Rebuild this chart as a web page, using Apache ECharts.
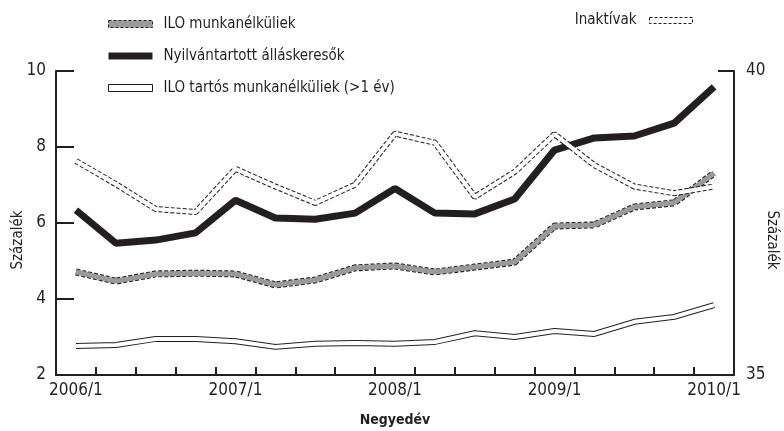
<!DOCTYPE html>
<html>
<head>
<meta charset="utf-8">
<script src="https://cdn.jsdelivr.net/npm/echarts@6/dist/echarts.min.js"></script>
<style>
  html, body { margin: 0; padding: 0; background: #fff; }
  #chart { width: 784px; height: 431px; }
</style>
</head>
<body>
<div id="chart"></div>
<script>
// negyedévek 2006/1 - 2010/1
const quarters = [
  "2006/1", "2006/2", "2006/3", "2006/4",
  "2007/1", "2007/2", "2007/3", "2007/4",
  "2008/1", "2008/2", "2008/3", "2008/4",
  "2009/1", "2009/2", "2009/3", "2009/4",
  "2010/1",
];

// bal tengely (%)
const iloMunkanelkuli = [4.71, 4.47, 4.66, 4.68, 4.66, 4.37, 4.5, 4.82, 4.87, 4.71, 4.84, 4.97, 5.92, 5.95, 6.42, 6.53, 7.31];
const nyilvantartott = [6.34, 5.47, 5.55, 5.74, 6.6, 6.13, 6.1, 6.26, 6.91, 6.26, 6.24, 6.63, 7.92, 8.24, 8.29, 8.63, 9.58];
const iloTartos = [2.76, 2.79, 2.95, 2.95, 2.89, 2.74, 2.82, 2.84, 2.82, 2.87, 3.1, 3.0, 3.16, 3.08, 3.4, 3.53, 3.84];

// jobb tengely (%)
const inaktivak = [38.52, 38.14, 37.73, 37.68, 38.39, 38.1, 37.83, 38.13, 38.97, 38.82, 37.93, 38.34, 38.96, 38.45, 38.1, 37.99, 38.1];

const FONT = "'DejaVu Sans Condensed', 'Liberation Sans Narrow', sans-serif";
const INK = "#231f20";
const GRAY = "#9a9a9a";

const chart = echarts.init(document.getElementById("chart"), null, { renderer: "canvas" });

// a "keretes" vonalakat két sorozattal rajzolom: alul a fekete kontúr, felül a kitöltés
const lineBase = { type: "line", showSymbol: false, symbol: "none", silent: true };

const option = {
  animation: false,
  backgroundColor: "#fff",
  grid: { left: 56, right: 50, top: 71, bottom: 56, containLabel: false, outerBoundsMode: "none" },
  legend: [
    {
      orient: "vertical",
      left: 108,
      top: 15,
      padding: 0,
      itemWidth: 44,
      itemHeight: 7,
      itemGap: 14,
      selectedMode: false,
      textStyle: { fontFamily: FONT, fontSize: 15, color: INK, lineHeight: 18, padding: [0, 0, 0, 6] },
      data: [
        { name: "ILO munkanélküliek", icon: "rect",
          itemStyle: { color: GRAY, borderColor: INK, borderWidth: 1, borderType: [3, 2] } },
        { name: "Nyilvántartott álláskeresők", icon: "rect",
          itemStyle: { color: INK, borderWidth: 0 } },
        { name: "ILO tartós munkanélküliek (>1 év)", icon: "rect",
          itemStyle: { color: "#fff", borderColor: INK, borderWidth: 1 } },
      ],
    },
    {
      orient: "horizontal",
      right: 91,
      top: 13,
      padding: 0,
      align: "right",
      itemWidth: 43,
      itemHeight: 6,
      selectedMode: false,
      textStyle: { fontFamily: FONT, fontSize: 15, color: INK, padding: [0, 8, 0, 0] },
      data: [
        { name: "Inaktívak", icon: "rect",
          itemStyle: { color: "#fff", borderColor: INK, borderWidth: 1, borderType: [3, 2] } },
      ],
    },
  ],
  xAxis: {
    type: "category",
    data: quarters,
    boundaryGap: true,
    name: "Negyedév",
    nameLocation: "middle",
    nameGap: 38,
    nameMoveOverlap: false,
    nameTextStyle: { fontFamily: FONT, fontSize: 14, fontWeight: "bold", color: INK },
    axisLine: { lineStyle: { color: INK, width: 2 } },
    axisTick: { show: true, inside: true, length: 8, interval: 0, lineStyle: { color: INK, width: 2 } },
    axisLabel: { interval: 3, fontFamily: FONT, fontSize: 17, color: INK, margin: 7 },
    splitLine: { show: false },
  },
  yAxis: [
    {
      type: "value",
      min: 2,
      max: 10,
      interval: 2,
      name: "Százalék",
      nameLocation: "middle",
      nameGap: 30,
      nameMoveOverlap: false,
      nameTextStyle: { fontFamily: FONT, fontSize: 15, color: INK, padding: [0, 34, 0, 0] },
      axisLine: { show: true, lineStyle: { color: INK, width: 2 } },
      axisTick: { show: true, inside: true, length: 18, lineStyle: { color: INK, width: 2 } },
      axisLabel: { fontFamily: FONT, fontSize: 17, color: INK, margin: 10 },
      splitLine: { show: false },
    },
    {
      type: "value",
      min: 35,
      max: 40,
      interval: 5,
      position: "right",
      name: "Százalék",
      nameLocation: "middle",
      nameGap: 30,
      nameRotate: -90,
      nameMoveOverlap: false,
      nameTextStyle: { fontFamily: FONT, fontSize: 15, color: INK, padding: [0, 0, 0, 34] },
      axisLine: { show: true, lineStyle: { color: INK, width: 2 } },
      axisTick: { show: true, inside: true, length: 16, lineStyle: { color: INK, width: 2 } },
      axisLabel: { fontFamily: FONT, fontSize: 17, color: INK, margin: 12 },
      splitLine: { show: false },
    },
  ],
  series: [
    // ILO tartós: fehér vonal fekete szegéllyel
    Object.assign({}, lineBase, { name: "ILO tartós munkanélküliek (>1 év)", data: iloTartos, yAxisIndex: 0, z: 2,
      lineStyle: { color: INK, width: 6 } }),
    Object.assign({}, lineBase, { name: "ILO tartós munkanélküliek (>1 év)", data: iloTartos, yAxisIndex: 0, z: 3,
      lineStyle: { color: "#fff", width: 4 } }),
    // ILO munkanélküliek: szürke, szaggatott szegély
    Object.assign({}, lineBase, { name: "ILO munkanélküliek", data: iloMunkanelkuli, yAxisIndex: 0, z: 2,
      lineStyle: { color: INK, width: 7, type: [4, 2] } }),
    Object.assign({}, lineBase, { name: "ILO munkanélküliek", data: iloMunkanelkuli, yAxisIndex: 0, z: 3,
      lineStyle: { color: GRAY, width: 5 } }),
    // Nyilvántartott: vastag fekete
    Object.assign({}, lineBase, { name: "Nyilvántartott álláskeresők", data: nyilvantartott, yAxisIndex: 0, z: 4,
      lineStyle: { color: INK, width: 7 } }),
    // Inaktívak: fehér, szaggatott szegély, jobb tengely
    Object.assign({}, lineBase, { name: "Inaktívak", data: inaktivak, yAxisIndex: 1, z: 5,
      lineStyle: { color: INK, width: 6, type: [4, 2] } }),
    Object.assign({}, lineBase, { name: "Inaktívak", data: inaktivak, yAxisIndex: 1, z: 6,
      lineStyle: { color: "#fff", width: 4 } }),
  ],
};

chart.setOption(option);
</script>
</body>
</html>
